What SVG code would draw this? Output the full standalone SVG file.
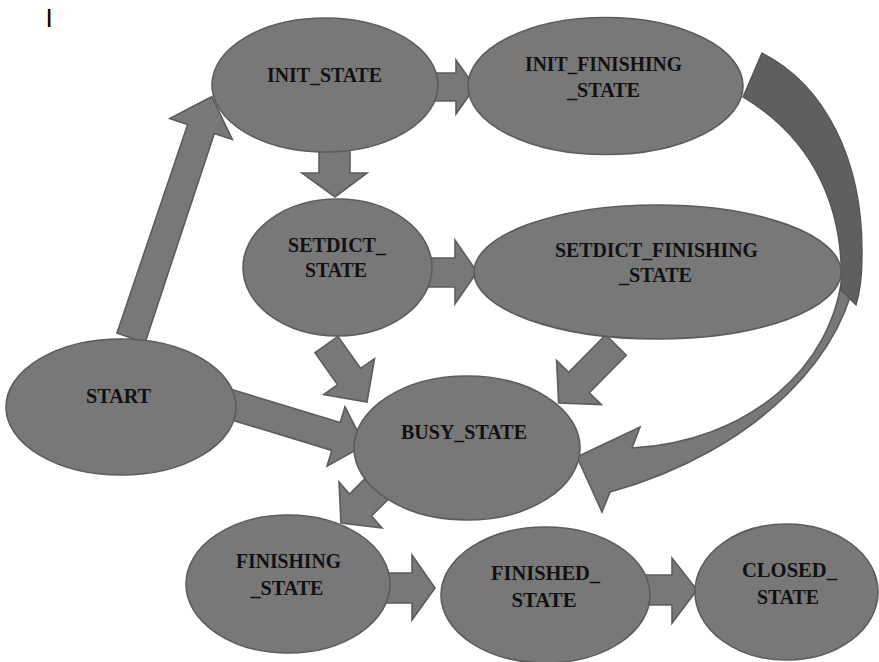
<svg xmlns="http://www.w3.org/2000/svg" width="879" height="662" viewBox="0 0 879 662">
  <style>
    .node { fill: #787878; stroke: #5c5c5c; stroke-width: 1.6; }
    .arrow { fill: #787878; stroke: #5c5c5c; stroke-width: 1.6; stroke-linejoin: miter; }
    .arrow-back { fill: #5f5f5f; stroke: #555555; stroke-width: 1.4; }
    .label { font-family: "Liberation Serif", "Times New Roman", serif; font-weight: bold; font-size: 22px; fill: #111111; text-anchor: middle; }
    .mark { font-family: "Liberation Sans", Arial, sans-serif; font-size: 26px; fill: #000000; }
  </style>
  <rect width="879" height="662" fill="#ffffff"/>

  <text class="mark" x="45.4" y="27">I</text>

  <g id="connectors">
    <!-- START -> INIT_STATE -->
    <polygon class="arrow" points="117,333 187.7,124.6 169.7,118.6 211.7,96.7 232.3,139.4 214.3,133.4 145,343"/>
    <!-- INIT_STATE -> INIT_FINISHING_STATE -->
    <polygon class="arrow" points="430,73 456,73 456,60 475,87 456,114 456,101 430,101"/>
    <!-- INIT_STATE -> SETDICT_STATE -->
    <polygon class="arrow" points="319,145 350,145 350,173 367,173 335,197 302,173 319,173"/>
    <!-- SETDICT_STATE -> SETDICT_FINISHING_STATE -->
    <polygon class="arrow" points="425,258 455,258 455,240 477,272 455,304 455,287 425,287"/>
    <!-- SETDICT_STATE -> BUSY_STATE -->
    <polygon class="arrow" points="338,336.4 360.6,368.5 374.5,358.7 367,402 323.7,394.5 337.6,384.7 315,352.6"/>
    <!-- SETDICT_FINISHING_STATE -> BUSY_STATE -->
    <polygon class="arrow" points="605.7,334.8 626.3,355.2 589.3,392.7 601.4,404.6 558.6,403.1 556.6,360.4 568.7,372.3"/>
    <!-- START -> BUSY_STATE -->
    <polygon class="arrow" points="229.2,388.8 340.2,422.6 345,406.8 364.7,445.2 327,466.2 331.8,450.4 220.8,416.6"/>
    <!-- BUSY_STATE -> FINISHING_STATE -->
    <polygon class="arrow" points="377.8,465.7 349.5,494 339,482 341,523 382,528 371.5,516 399.8,487.7"/>
    <!-- FINISHING_STATE -> FINISHED_STATE -->
    <polygon class="arrow" points="385,573 412,573 412,555 435,588 412,620 412,603 385,603"/>
    <!-- FINISHED_STATE -> CLOSED_STATE -->
    <polygon class="arrow" points="645,575 672,575 672,558 697,590 672,623 672,605 645,605"/>
    <!-- INIT_FINISHING_STATE -> BUSY_STATE (curved arrow: front band with head, then shaded back band) -->
    <path class="arrow" d="M 857,262 C 850,350 760,450 610,492 L 602,512 L 577,457 L 640,427 L 632,448 C 745,442 835,370 843,268 Z"/>
    <path class="arrow-back" d="M 743,97 L 762,53 C 825,85 863,160 862,255 C 862,275 860,292 856,305 L 841,290 C 845,210 815,140 743,97 Z"/>
  </g>

  <g id="node-init">
    <ellipse class="node" cx="325" cy="85" rx="113" ry="67"/>
    <text class="label" x="324.5" y="82" textLength="115" lengthAdjust="spacingAndGlyphs">INIT_STATE</text>
  </g>
  <g id="node-init-finishing">
    <ellipse class="node" cx="605.5" cy="86" rx="137.5" ry="68.5"/>
    <text class="label" x="603.5" y="71" textLength="157" lengthAdjust="spacingAndGlyphs">INIT_FINISHING</text>
    <text class="label" x="603.5" y="97" textLength="73" lengthAdjust="spacingAndGlyphs">_STATE</text>
  </g>
  <g id="node-setdict">
    <ellipse class="node" cx="337.5" cy="267.5" rx="94.5" ry="68.5"/>
    <text class="label" x="337" y="252" textLength="98" lengthAdjust="spacingAndGlyphs">SETDICT_</text>
    <text class="label" x="336" y="277" textLength="62" lengthAdjust="spacingAndGlyphs">STATE</text>
  </g>
  <g id="node-setdict-finishing">
    <ellipse class="node" cx="657.5" cy="272" rx="183.5" ry="67"/>
    <text class="label" x="656.5" y="257" textLength="203" lengthAdjust="spacingAndGlyphs">SETDICT_FINISHING</text>
    <text class="label" x="655.5" y="282" textLength="73" lengthAdjust="spacingAndGlyphs">_STATE</text>
  </g>
  <g id="node-start">
    <ellipse class="node" cx="121" cy="407" rx="115" ry="68"/>
    <text class="label" x="118.5" y="403" textLength="65" lengthAdjust="spacingAndGlyphs">START</text>
  </g>
  <g id="node-busy">
    <ellipse class="node" cx="467" cy="448" rx="113" ry="72"/>
    <text class="label" x="464" y="439" textLength="126" lengthAdjust="spacingAndGlyphs">BUSY_STATE</text>
  </g>
  <g id="node-finishing">
    <ellipse class="node" cx="288" cy="584" rx="102" ry="69"/>
    <text class="label" x="288.5" y="568" textLength="105" lengthAdjust="spacingAndGlyphs">FINISHING</text>
    <text class="label" x="287" y="595" textLength="73" lengthAdjust="spacingAndGlyphs">_STATE</text>
  </g>
  <g id="node-finished">
    <ellipse class="node" cx="545.5" cy="595" rx="104.5" ry="68"/>
    <text class="label" x="545.5" y="580" textLength="109" lengthAdjust="spacingAndGlyphs">FINISHED_</text>
    <text class="label" x="544" y="607" textLength="65" lengthAdjust="spacingAndGlyphs">STATE</text>
  </g>
  <g id="node-closed">
    <ellipse class="node" cx="786.5" cy="592" rx="91.5" ry="68"/>
    <text class="label" x="789.5" y="577" textLength="95" lengthAdjust="spacingAndGlyphs">CLOSED_</text>
    <text class="label" x="788" y="604" textLength="62" lengthAdjust="spacingAndGlyphs">STATE</text>
  </g>
</svg>
